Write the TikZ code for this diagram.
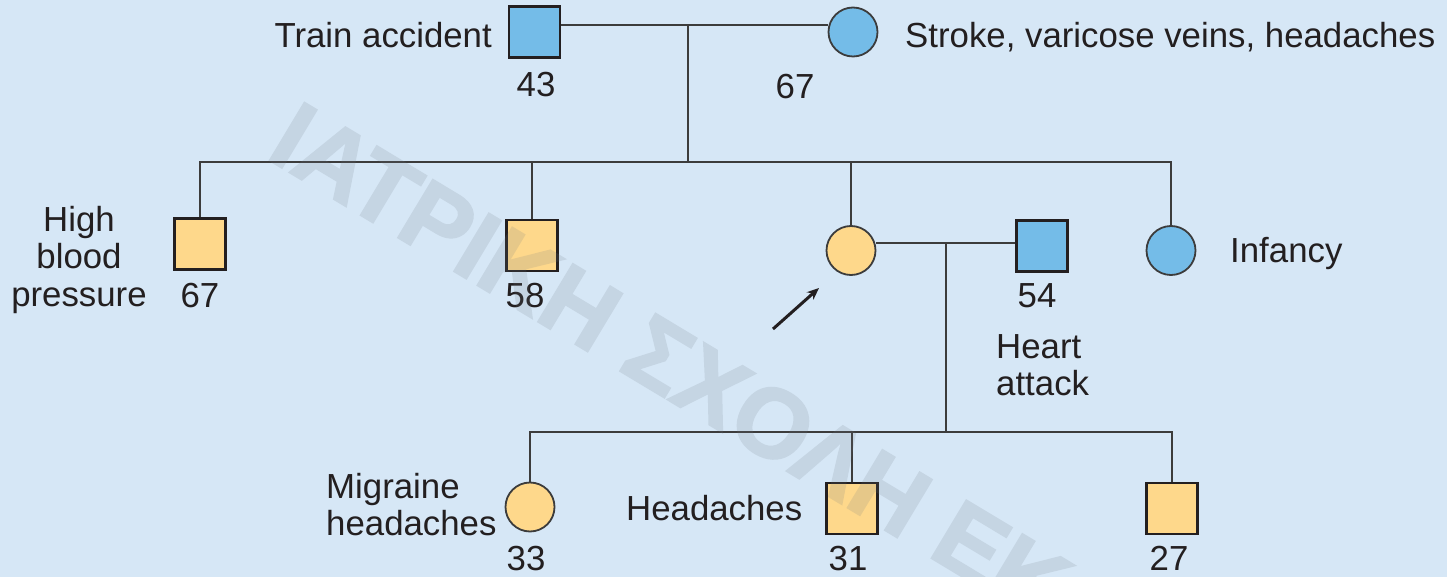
\documentclass[tikz,border=0pt]{standalone}
\usepackage{fontspec}
\setmainfont{Liberation Sans}
\newfontfamily\wmfont{Liberation Sans Bold}[FakeBold=2]
\usetikzlibrary{arrows.meta}
\definecolor{bg}{RGB}{214,231,246}
\definecolor{blueF}{RGB}{116,188,232}
\definecolor{orangeF}{RGB}{254,216,139}
\definecolor{lineC}{RGB}{60,60,60}
\definecolor{borderC}{RGB}{35,31,32}
\definecolor{txtC}{RGB}{35,31,32}
\definecolor{wmC}{RGB}{110,120,130}
\tikzset{
  male/.style={draw=borderC, line width=2.8pt, minimum size=51pt, inner sep=0pt, rectangle},
  female/.style={draw=lineC, line width=1.8pt, minimum size=49pt, inner sep=0pt, circle},
  aff/.style={fill=blueF},
  unaff/.style={fill=orangeF},
  link/.style={draw=lineC, line width=1.8pt},
  lbl/.style={text=txtC, inner sep=0pt, font=\fontsize{34.8}{37.5}\selectfont},
}
\begin{document}
\begin{tikzpicture}[x=1pt,y=-1pt]
\useasboundingbox (0,0) rectangle (1447,577);
\fill[bg] (0,0) rectangle (1447,577);

% generation I
\node[male,aff] (gf) at (534.5,32) {};
\node[female,aff] (gm) at (853,32) {};
\coordinate (m1) at (688,25);
\coordinate (sib1) at (688,162);
% generation II
\node[male,unaff] (s1) at (200,244) {};
\node[male,unaff] (s2) at (532,245.5) {};
\node[female,unaff] (pr) at (851,250.5) {};
\node[male,aff] (hb) at (1042,246) {};
\node[female,aff] (s4) at (1171,250.5) {};
\coordinate (m2) at (946,243);
\coordinate (sib2) at (946,432);
% generation III
\node[female,unaff] (c1) at (530,507) {};
\node[male,unaff] (c2) at (852,508.5) {};
\node[male,unaff] (c3) at (1172,508.5) {};

% connectors
\draw[link] (gf.east |- m1) -- (gm.west |- m1);
\draw[link] (m1) -- (sib1);
\draw[link] (s1.north) -- (s1.north |- sib1) -- (s4.north |- sib1) -- (s4.north);
\draw[link] (s2.north) -- (s2.north |- sib1);
\draw[link] (pr.north) -- (pr.north |- sib1);
\draw[link] (pr.east |- m2) -- (hb.west |- m2);
\draw[link] (m2) -- (sib2);
\draw[link] (c1.north) -- (c1.north |- sib2) -- (c3.north |- sib2) -- (c3.north);
\draw[link] (c2.north) -- (c2.north |- sib2);

% proband arrow
\coordinate (ar0) at (773,329);
\coordinate (ar1) at (819,288);
\draw[draw=borderC, line width=3pt, -{Stealth[length=12pt,width=10pt]}] (ar0) -- (ar1);

% labels
\node[lbl, anchor=base east] (t1) at (492,48) {Train accident};
\node[lbl, anchor=base] (t2) at (536,97) {43};
\node[lbl, anchor=base] (t3) at (795,99) {67};
\node[lbl, anchor=base west] (t4) at (905,48) {Stroke, varicose veins, headaches};
\node[lbl, anchor=north, align=center] (t5) at (79,206) {High\\blood\\pressure};
\node[lbl, anchor=base] (t6) at (200,307) {67};
\node[lbl, anchor=base] (t7) at (525,307) {58};
\node[lbl, anchor=base] (t8) at (1037,307) {54};
\node[lbl, anchor=north west, align=left] (t9) at (996,334) {Heart\\attack};
\node[lbl, anchor=base west] (t10) at (1230,262) {Infancy};
\node[lbl, anchor=north west, align=left] (t11) at (326,473) {Migraine\\headaches};
\node[lbl, anchor=base west] (t12) at (626,520) {Headaches};
\node[lbl, anchor=base] (t13) at (526,570) {33};
\node[lbl, anchor=base] (t14) at (848,570) {31};
\node[lbl, anchor=base] (t15) at (1169,570) {27};

% watermark
\begin{scope}
\clip (0,0) rectangle (1447,577);
\begin{scope}[transparency group, opacity=0.16]
\node[anchor=base west, rotate=-31, text=wmC, inner sep=0pt,
      font=\fontsize{98}{98}\wmfont] (wm) at (264,157) {ΙΑΤΡΙΚΗ ΣΧΟΛΗ ΕΚ};
\end{scope}
\end{scope}
\end{tikzpicture}
\end{document}
